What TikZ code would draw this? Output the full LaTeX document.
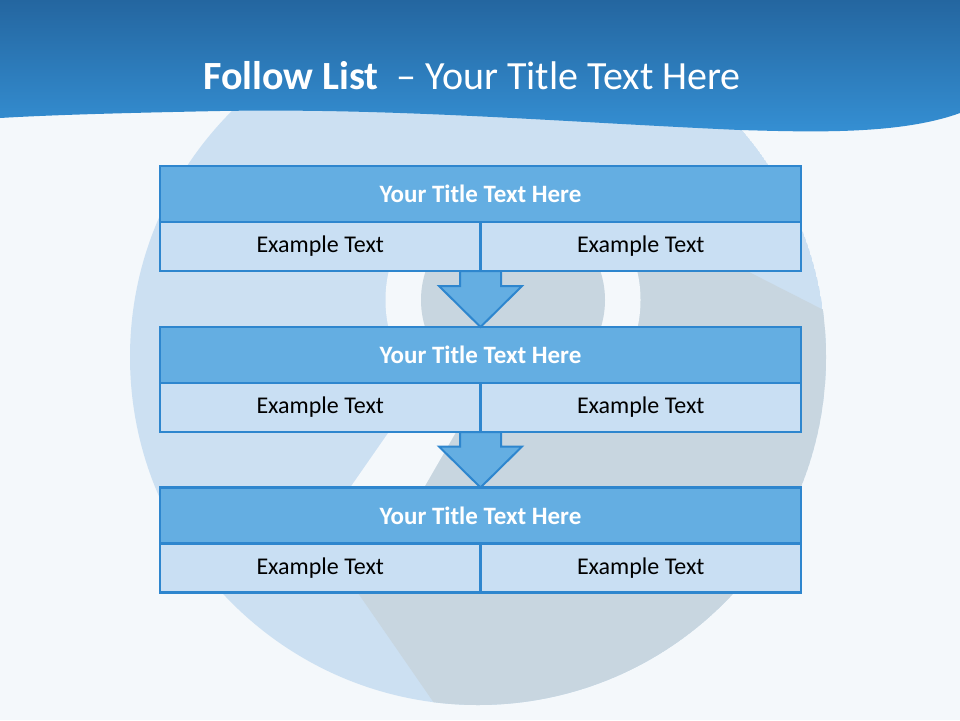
\documentclass[tikz,border=0pt]{standalone}
\usepackage{fontspec}
\setmainfont{Carlito}
\usetikzlibrary{calc}
\definecolor{bgc}{HTML}{F4F8FB}
\definecolor{circ}{HTML}{CCE0F2}
\definecolor{shadowc}{HTML}{C8D6E0}
\definecolor{edge}{HTML}{2E86CE}
\definecolor{titlefill}{HTML}{64AEE2}
\definecolor{subfill}{HTML}{C9DFF3}
\definecolor{headtop}{HTML}{2466A0}
\definecolor{headbot}{HTML}{3590D4}
\begin{document}
\begin{tikzpicture}[x=1pt,y=-1pt,
  titlebox/.style={draw=edge, fill=titlefill, line width=2.5pt, minimum width=641pt, minimum height=56pt, inner sep=0pt, outer sep=0pt, text=white, font=\fontsize{25}{30}\selectfont\bfseries},
  subbox/.style={draw=edge, fill=subfill, line width=2.5pt, minimum width=320.5pt, minimum height=49pt, inner sep=0pt, outer sep=0pt, text=black, font=\fontsize{24}{29}\selectfont},
  downarrow/.style={draw=edge, fill=titlefill, line width=2pt, line join=miter}
]
\useasboundingbox (0,0) rectangle (960,720);
\fill[bgc] (0,0) rectangle (960,720);
% background decoration
\begin{scope}
  \clip (478,357) circle (348);
  \fill[circ] (478,357) circle (348);
  \fill[shadowc] (600,196) -- (1000,400) -- (1000,800) -- (470,755) -- (358,593) -- (486,380) -- (513,300) -- cycle;
  \fill[bgc] (425,380) -- (486,380) -- (365,590) -- (279,590) -- cycle;
  \fill[bgc] (513,300) circle (127.5);
  \fill[shadowc] (513,300) circle (92);
\end{scope}
% header band
\shade[top color=headtop, bottom color=headbot]
  (0,0) -- (960,0) -- (960,113)
  .. controls (900,135) and (810,132) .. (740,130)
  .. controls (560,122) and (400,108) .. (220,111)
  .. controls (120,113) and (50,115) .. (0,118) -- cycle;
\node[text=white, font=\fontsize{40}{46}\selectfont] (title) at (472,76)
  {\textbf{Follow List}\hspace{0.45em}– Your Title Text Here};
% boxes
\node[titlebox] (t1) at (480.5,194) {Your Title Text Here};
\node[subbox] (l1) at (320.25,246.5) {Example Text};
\node[subbox] (r1) at (640.75,246.5) {Example Text};
\node[titlebox] (t2) at (480.5,355) {Your Title Text Here};
\node[subbox] (l2) at (320.25,407.5) {Example Text};
\node[subbox] (r2) at (640.75,407.5) {Example Text};
\node[titlebox] (t3) at (480.5,515.5) {Your Title Text Here};
\node[subbox] (l3) at (320.25,568) {Example Text};
\node[subbox] (r3) at (640.75,568) {Example Text};
% arrows
\draw[downarrow] ($(l1.south east)+(-20.5,0)$) -- ++(0,15) -- ++(-21,0) -- (t2.north) -- ++(41.5,-41) -- ++(-21,0) -- ++(0,-15) -- cycle;
\draw[downarrow] ($(l2.south east)+(-20.5,0)$) -- ++(0,14.5) -- ++(-21,0) -- (t3.north) -- ++(41.5,-41) -- ++(-21,0) -- ++(0,-14.5) -- cycle;
\end{tikzpicture}
\end{document}
